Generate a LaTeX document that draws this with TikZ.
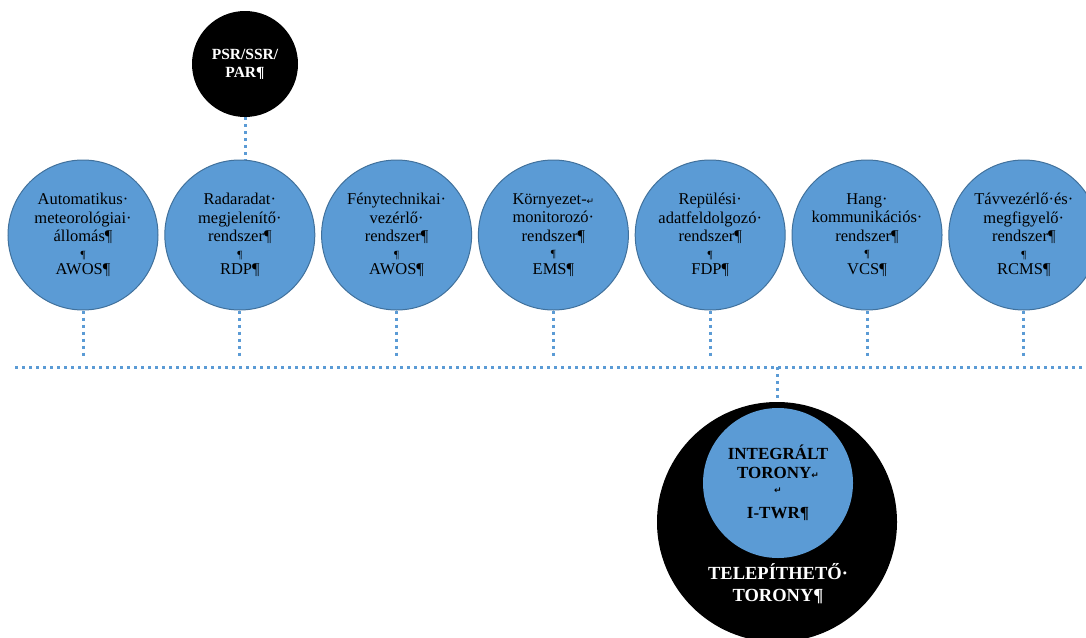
\documentclass[tikz,border=0pt]{standalone}
\usepackage{fontspec}
\setmainfont{Liberation Serif}
\newfontfamily\marksfont{DejaVu Sans}
\usetikzlibrary{positioning}
\definecolor{sysfill}{HTML}{5B9BD5}
\definecolor{sysline}{HTML}{41719C}
\definecolor{linkblue}{HTML}{5B9BD5}
\newcommand{\lbrk}{{\marksfont\fontsize{9}{9}\selectfont\char"21B5}}
\newcommand{\emptypar}{{\fontsize{11}{11}\selectfont ¶}}

\begin{document}
\begin{tikzpicture}[
  x=1pt, y=-1pt,
  font=\fontsize{16.5}{18.5}\selectfont,
  sys/.style    = {circle, draw=sysline, fill=sysfill, line width=1pt,
                   minimum size=150pt, inner sep=0pt, align=center, text=black},
  sensor/.style = {circle, fill=black, minimum size=106pt, inner sep=0pt, align=center,
                   text=white, font=\bfseries\fontsize{15.5}{18}\selectfont},
  tower/.style  = {circle, fill=black, minimum size=240pt, inner sep=0pt},
  core/.style   = {circle, fill=sysfill, minimum size=150pt, inner sep=0pt, align=center,
                   text=black, font=\bfseries\fontsize{17}{18.5}\selectfont},
  link/.style   = {draw=linkblue, line width=3pt, dash pattern=on 3pt off 4pt},
]
\useasboundingbox (0,0) rectangle (1086,637);

% --- the row of systems ----------------------------------------------------------------------------
\node[sys] (awos) at (83,235)
  {Automatikus·\\meteorológiai·\\állomás¶\\[-2pt]\emptypar\\[-2pt]AWOS¶};
\node[sys, right=5.8pt of awos] (rdp)
  {Radaradat·\\megjelenítő·\\rendszer¶\\[-2pt]\emptypar\\[-2pt]RDP¶};
\node[sys, right=5.8pt of rdp]  (fty)
  {Fénytechnikai·\\vezérlő·\\rendszer¶\\[-2pt]\emptypar\\[-2pt]AWOS¶};
\node[sys, right=5.8pt of fty]  (ems)
  {Környezet-\lbrk\\monitorozó·\\rendszer¶\\[-2pt]\emptypar\\[-2pt]EMS¶};
\node[sys, right=5.8pt of ems]  (fdp)
  {Repülési·\\adatfeldolgozó·\\rendszer¶\\[-2pt]\emptypar\\[-2pt]FDP¶};
\node[sys, right=5.8pt of fdp]  (vcs)
  {Hang·\\kommunikációs·\\rendszer¶\\[-2pt]\emptypar\\[-2pt]VCS¶};
\node[sys, right=5.8pt of vcs]  (rcms)
  {Távvezérlő·és·\\megfigyelő·\\rendszer¶\\[-2pt]\emptypar\\[-2pt]RCMS¶};

% --- the radar above the display ---------------------------------------------------------------------
\node[sensor] (psr) at (245,64) {PSR/SSR/\\PAR¶};
\draw[link] (psr.south) -- (psr.south |- rdp.north);

% --- the common bus and the stubs down to it --------------------------------------------------------
\coordinate (busw) at (15,367);
\coordinate (buse) at (1086,367);
\coordinate (stubs) at (0,356);
\draw[link] (busw) -- (buse);
\foreach \n in {awos,rdp,fty,ems,fdp,vcs,rcms}
  \draw[link] (\n.south) -- (\n.south |- stubs);

% --- the tower -----------------------------------------------------------------------------------------
\node[tower] (dtwr) at (777,522) {};
\node[core]  (itwr) at (778,483) {INTEGRÁLT\\TORONY\lbrk\\[-3pt]\lbrk\\[6pt]I-TWR¶};
\node[below=2pt of itwr, align=center, text=white,
      font=\bfseries\fontsize{18.5}{22}\selectfont] (dtwrlbl) {TELEPÍTHETŐ·\\TORONY¶};
\draw[link] (dtwr.north |- busw) -- (dtwr.north);

\end{tikzpicture}
\end{document}
